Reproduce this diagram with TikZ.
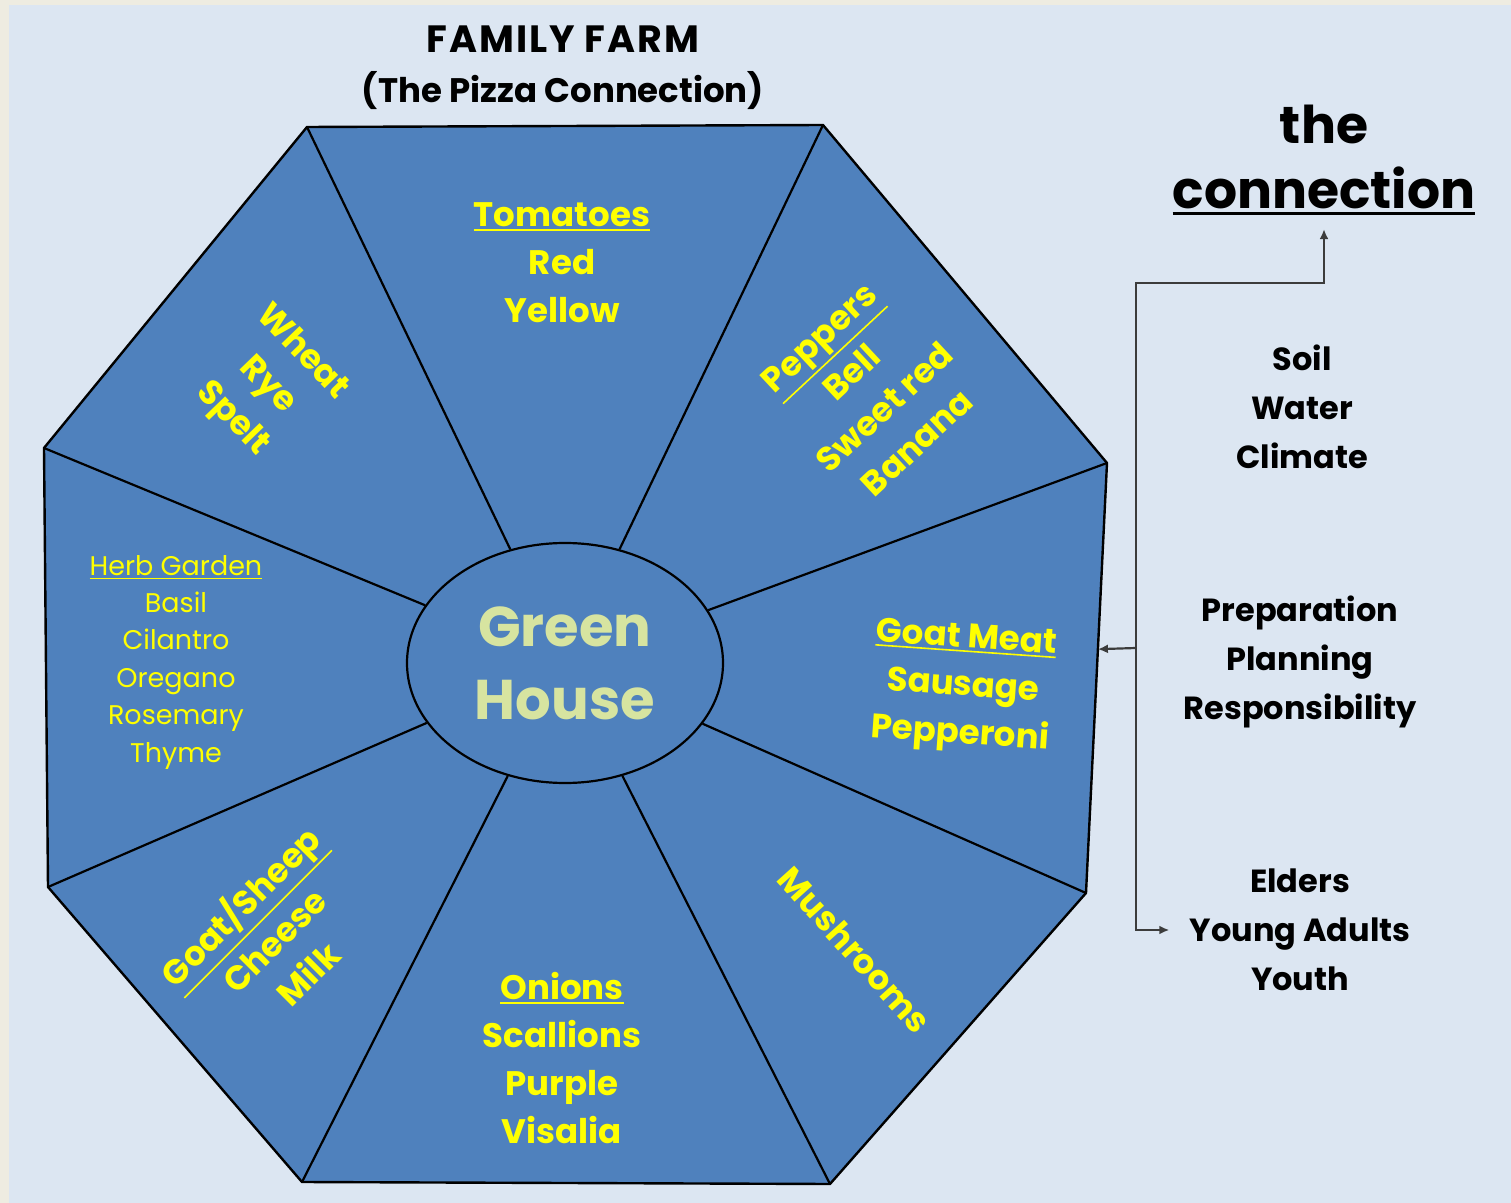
\documentclass[tikz,border=0pt]{standalone}
\usepackage{fontspec}
\setmainfont{Poppins}
\usetikzlibrary{arrows.meta,positioning,shapes.geometric,calc}

\definecolor{pagecream}{RGB}{238,236,225}
\definecolor{paneblue}{RGB}{220,230,242}
\definecolor{plotblue}{RGB}{79,129,189}
\definecolor{cropyellow}{RGB}{255,255,0}
\definecolor{housegreen}{RGB}{215,228,160}
\definecolor{linkgray}{RGB}{60,60,60}

% underline with a rule of its own thickness
\newcommand{\uln}[2][0.8pt]{\leavevmode\vtop{\hbox{#2}\kern1.2pt\hrule height #1}}

\begin{document}
\begin{tikzpicture}[x=0.5pt,y=-0.5pt,
  crop/.style={text=cropyellow,font=\bfseries\fontsize{17}{24}\selectfont,
               align=center,inner sep=0pt},
  herb/.style={text=cropyellow,font=\fontsize{13.5}{18.7}\selectfont,
               align=center,inner sep=0pt},
  note/.style={text=black,font=\bfseries\fontsize{16}{24.5}\selectfont,
               align=center,inner sep=0pt},
  spoke/.style={draw=black,line width=1.1pt},
  link/.style={draw=linkgray,line width=1.1pt,-{Latex[length=5pt,width=4.5pt]}},
]
  % page and panel
  \fill[pagecream] (0,0) rectangle (1511,1203);
  \fill[paneblue] (9,5) rectangle (1511,1203);
  \useasboundingbox (0,0) rectangle (1511,1203);

  % the farm plot
  \coordinate (vA) at (307,127);
  \coordinate (vB) at (823,125);
  \coordinate (vC) at (1107,463);
  \coordinate (vD) at (1086,893);
  \coordinate (vE) at (830,1184);
  \coordinate (vF) at (302,1182);
  \coordinate (vG) at (48,887);
  \coordinate (vH) at (44,448);
  \filldraw[fill=plotblue,draw=black,line width=1.2pt]
    (vA) -- (vB) -- (vC) -- (vD) -- (vE) -- (vF) -- (vG) -- (vH) -- cycle;

  \node[ellipse,draw=black,line width=1.1pt,fill=plotblue,
        minimum width=158pt,minimum height=120pt,inner sep=0pt,
        text=housegreen,align=center,
        font=\bfseries\fontsize{28}{36.5}\selectfont] (gh) at (565,663) {Green\\House};

  \foreach \v in {vA,vB,vC,vD,vE,vF,vG,vH}
    \draw[spoke] (\v) -- (gh);

  % crops in each plot
  \node[crop] (tomato) at (562,263) {\uln{Tomatoes}\\Red\\Yellow};
  \node[crop,rotate=-46] (grain) at (267,386) {Wheat\\Rye\\Spelt};
  \node[crop,rotate=43] (pepper) at (868,390) {\uln{Peppers}\\Bell\\Sweet red\\Banana};
  \node[herb] (herbs) at (176,662) {\uln[0.6pt]{Herb Garden}\\Basil\\Cilantro\\Oregano\\Rosemary\\Thyme};
  \node[crop,rotate=-4] (goat) at (963,688) {\uln{Goat Meat}\\Sausage\\Pepperoni};
  \node[crop,rotate=-48] (mush) at (855,950) {Mushrooms};
  \node[crop] (onion) at (562,1058) {\uln{Onions}\\Scallions\\Purple\\Visalia};
  \node[crop,rotate=45] (dairy) at (272,938) {\uln{Goat/Sheep}\\Cheese\\Milk};

  % headings
  \node[note,font=\bfseries\fontsize{17}{25}\selectfont] (title) at (563,68)
    {{\fontsize{19}{25}\selectfont\addfontfeatures{LetterSpace=5}FAMILY FARM}\\(The Pizza Connection)};
  \node[note,font=\bfseries\fontsize{26}{32.5}\selectfont] (conn) at (1324,160)
    {the\\\uln[1.6pt]{connection}};

  % what ties it together
  \node[note] (land) at (1302,407) {Soil\\Water\\Climate};
  \node[note] (plan) at (1300,662) {Preparation\\Planning\\Responsibility};
  \node[note] (folk) at (1300,930) {Elders\\Young Adults\\Youth};

  \coordinate (jTop) at (1136,283);
  \coordinate (jMid) at (1136,648);
  \coordinate (jBot) at (1136,930);
  \coordinate (edgeR) at ($(vC)!0.433!(vD)$);

  \draw[link,shorten >=7pt] (jMid) -- (jTop) -| (conn.south);
  \draw[link] (jMid) -- (edgeR);
  \draw[link,shorten >=10pt] (jMid) -- (jBot) -- (folk.west |- jBot);
\end{tikzpicture}
\end{document}
